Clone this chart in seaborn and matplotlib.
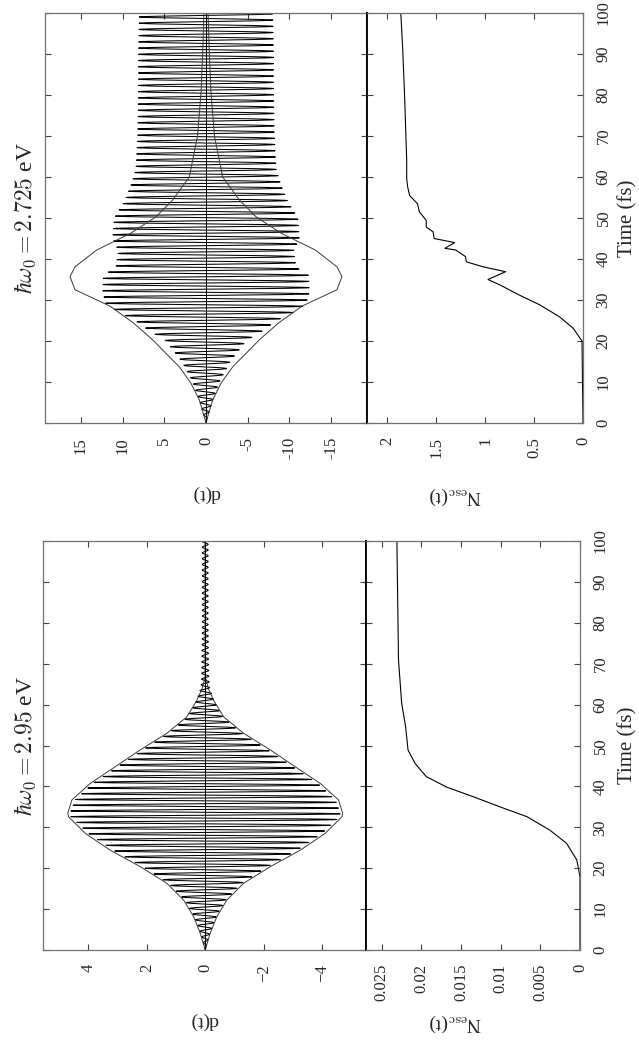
import numpy as np
import pandas as pd
import matplotlib
matplotlib.use('Agg')
import matplotlib.pyplot as plt
import seaborn as sns
from matplotlib.ticker import FixedLocator, FixedFormatter

sns.set_theme(style='ticks')
plt.rcParams['font.family'] = ['Liberation Serif', 'DejaVu Serif']
plt.rcParams['mathtext.fontset'] = 'cm'

# ---------------- data ----------------
HBAR = 0.658212  # eV fs
photon_energy = [2.725, 2.95]          # eV, from the panel titles
titles = [r'$\hbar\omega_0 = 2.725$ eV', r'$\hbar\omega_0 = 2.95$ eV']

# panel A : hbar w0 = 2.725 eV -----------------------------------
t_env_a = [0, 1.5, 5.6, 9.7, 13.7, 17.8, 20.3, 24.4, 28.5, 32.5, 35.7, 38.1,
           42.2, 46.3, 50.3, 54.4, 60.0, 69.8, 80.4, 90.0, 100.0]
env_a = [0, 0.2, 0.8, 1.8, 3.2, 5.2, 6.4, 8.7, 11.5, 15.7, 16.3, 15.7,
         13.1, 9.0, 6.0, 4.0, 2.0, 1.03, 0.6, 0.4, 0.25]
t_amp_a = [0, 5, 10, 15, 20, 22.5, 25, 27, 29, 32, 36, 38, 42, 45, 50,
           54, 58, 62, 70, 80, 90, 100]
amp_a = [0, 0.7, 1.6, 2.9, 4.8, 6.8, 8.5, 10.5, 12.0, 12.4, 12.3, 10.8, 10.5,
         11.2, 11.0, 9.8, 9.0, 8.4, 8.2, 8.1, 8.1, 8.0]
t_n_a = [0, 20.0, 23.1, 25.9, 28.8, 31.2, 33.7, 35.0, 36.9, 38.1, 39.3, 40.6,
         42.2, 42.6, 44.0, 45.0, 46.6, 47.8, 49.4, 51.5, 53.5, 55.5, 57.6,
         59.7, 64.2, 79.0, 91.0, 100.0]
n_a = [0, 0.01, 0.10, 0.24, 0.44, 0.65, 0.85, 0.97, 0.79, 1.02, 1.19, 1.20,
       1.30, 1.41, 1.31, 1.52, 1.53, 1.60, 1.60, 1.67, 1.69, 1.77, 1.79,
       1.80, 1.80, 1.82, 1.84, 1.86]

# panel B : hbar w0 = 2.95 eV ------------------------------------
t_env_b = [0, 4.1, 8.2, 12.2, 16.3, 20.4, 24.4, 28.5, 32.6, 33.5, 36.7, 40.7,
           44.8, 48.9, 53.0, 57.0, 61.0, 64.0, 67.0, 100.0]
env_b = [0, 0.17, 0.40, 0.74, 1.31, 2.23, 3.25, 4.10, 4.68, 4.70, 4.56, 3.94,
         3.08, 2.23, 1.31, 0.63, 0.29, 0.10, 0.0, 0.0]
t_amp_b = [0, 4.1, 8.2, 12.2, 16.3, 20.4, 24.4, 28.5, 32.6, 33.5, 36.7, 40.7,
           44.8, 48.9, 53.0, 57.0, 61.0, 64.0, 67.0, 80.0, 100.0]
amp_b = [0, 0.16, 0.38, 0.70, 1.25, 2.15, 3.15, 4.0, 4.6, 4.62, 4.45, 3.85,
         3.0, 2.15, 1.25, 0.6, 0.3, 0.15, 0.12, 0.10, 0.10]
t_n_b = [0, 12.2, 17.9, 22.0, 26.1, 29.3, 32.6, 35.0, 37.5, 39.8, 42.4, 45.6,
         48.9, 54.6, 60.3, 70.9, 100.0]
n_b = [0, 0, 0, 0.0004, 0.0017, 0.0038, 0.0067, 0.0101, 0.0135, 0.0168,
       0.0194, 0.0208, 0.0217, 0.0220, 0.0225, 0.0229, 0.0231]

d_ticks = [[15, 10, 5, 0, -5, -10, -15], [4, 2, 0, -2, -4]]
d_ticklabels = [['15', '10', '5', '0', '-5', '-10', '-15'],
                ['4', '2', '0', '\u22122', '\u22124']]
d_lims = [(19.3, -19.3), (5.55, -5.5)]
n_ticks = [[2, 1.5, 1, 0.5, 0], [0.025, 0.02, 0.015, 0.01, 0.005, 0]]
n_ticklabels = [['2', '1.5', '1', '0.5', '0'],
                ['0.025', '0.02', '0.015', '0.01', '0.005', '0']]
n_lims = [(2.205, 0), (0.027, 0)]
time_ticks = [0, 10, 20, 30, 40, 50, 60, 70, 80, 90, 100]

panels = [
    dict(t_env=t_env_a, env=env_a, t_amp=t_amp_a, amp=amp_a, t_n=t_n_a, n=n_a),
    dict(t_env=t_env_b, env=env_b, t_amp=t_amp_b, amp=amp_b, t_n=t_n_b, n=n_b),
]

# ---------------- layout ----------------
W, H = 639, 1051
fig = plt.figure(figsize=(W / 100, H / 100), dpi=100)
fig.patch.set_facecolor('white')

# pixel boxes: (x_left, x_mid, x_right, y_top, y_bottom)
boxes = [(45, 367, 583, 13, 423), (43, 366, 580, 541, 950)]

spine_col = '#707070'
fs_tick = 12

for i, (p, box) in enumerate(zip(panels, boxes)):
    xl, xm, xr, yt, yb = box
    bottom = 1 - yb / H
    height = (yb - yt) / H
    ax_d = fig.add_axes([xl / W, bottom, (xm - xl) / W, height])
    ax_n = fig.add_axes([xm / W, bottom, (xr - xm) / W, height])

    # dipole oscillation: envelope-modulated carrier at the photon energy
    t = np.arange(0, 100.0001, 0.02)
    amp = np.interp(t, p['t_amp'], p['amp'])
    d = amp * np.sin(photon_energy[i] / HBAR * t)
    df = pd.DataFrame({'d': d, 't': t})
    sns.lineplot(data=df, x='d', y='t', orient='y', sort=False, estimator=None,
                 color='black', lw=0.75, ax=ax_d)
    env_df = pd.DataFrame({'e': p['env'], 't': p['t_env']})
    sns.lineplot(x=env_df['e'], y=env_df['t'], orient='y', sort=False,
                 estimator=None, color='#3a3a3a', lw=0.7, ax=ax_d)
    sns.lineplot(x=-env_df['e'], y=env_df['t'], orient='y', sort=False,
                 estimator=None, color='#3a3a3a', lw=0.7, ax=ax_d)
    ax_d.axvline(0, color='black', lw=0.7)

    ndf = pd.DataFrame({'n': p['n'], 't': p['t_n']})
    sns.lineplot(data=ndf, x='n', y='t', orient='y', sort=False,
                 estimator=None, color='black', lw=0.8, ax=ax_n)

    for ax in (ax_d, ax_n):
        ax.set_ylim(0, 100)
        ax.yaxis.set_major_locator(FixedLocator(time_ticks))
        ax.tick_params(direction='in', length=4, width=0.8, color='#404040',
                       top=True, bottom=True, left=True, right=True,
                       labelsize=fs_tick)
        for s in ax.spines.values():
            s.set_color(spine_col)
            s.set_linewidth(0.9)
        ax.set_xlabel('')
        ax.set_ylabel('')
        ax.set_facecolor('white')

    ax_d.set_xlim(*d_lims[i])
    ax_d.xaxis.set_major_locator(FixedLocator(d_ticks[i]))
    ax_d.xaxis.set_major_formatter(FixedFormatter(d_ticklabels[i]))
    ax_d.tick_params(axis='y', labelleft=False, labelright=False)
    ax_d.tick_params(axis='x', labelrotation=90, pad=10)
    ax_d.spines['right'].set_color('black')
    ax_d.spines['right'].set_linewidth(1.3)

    ax_n.set_xlim(*n_lims[i])
    ax_n.xaxis.set_major_locator(FixedLocator(n_ticks[i]))
    ax_n.xaxis.set_major_formatter(FixedFormatter(n_ticklabels[i]))
    ax_n.tick_params(axis='y', labelleft=False, labelright=True,
                     labelrotation=90, pad=9)
    ax_n.tick_params(axis='x', labelrotation=90, pad=10)
    ax_n.spines['left'].set_color('black')
    ax_n.spines['left'].set_linewidth(1.3)
    for lab in ax_n.get_yticklabels():
        lab.set_verticalalignment('center')

    h_px = yb - yt
    ax_d.text(0.5, -(485 - 423) / h_px, 'd(t)', rotation=180, ha='center',
              va='top', fontsize=14, transform=ax_d.transAxes)
    ax_n.text((455 - xm) / (xr - xm), -(485 - 423) / h_px,
              r'N$_{\rm esc}$(t)', rotation=180, ha='center', va='top',
              fontsize=14, transform=ax_n.transAxes)
    ax_d.text((25 - xl) / (xm - xl), 0.5, titles[i], rotation=90,
              ha='center', va='center', fontsize=17, transform=ax_d.transAxes)
    ax_n.text(1 + (628 - xr) / (xr - xm), 0.5, 'Time (fs)', rotation=90,
              ha='center', va='center', fontsize=15, transform=ax_n.transAxes)

fig.savefig('out.png', dpi=100, facecolor='white')
